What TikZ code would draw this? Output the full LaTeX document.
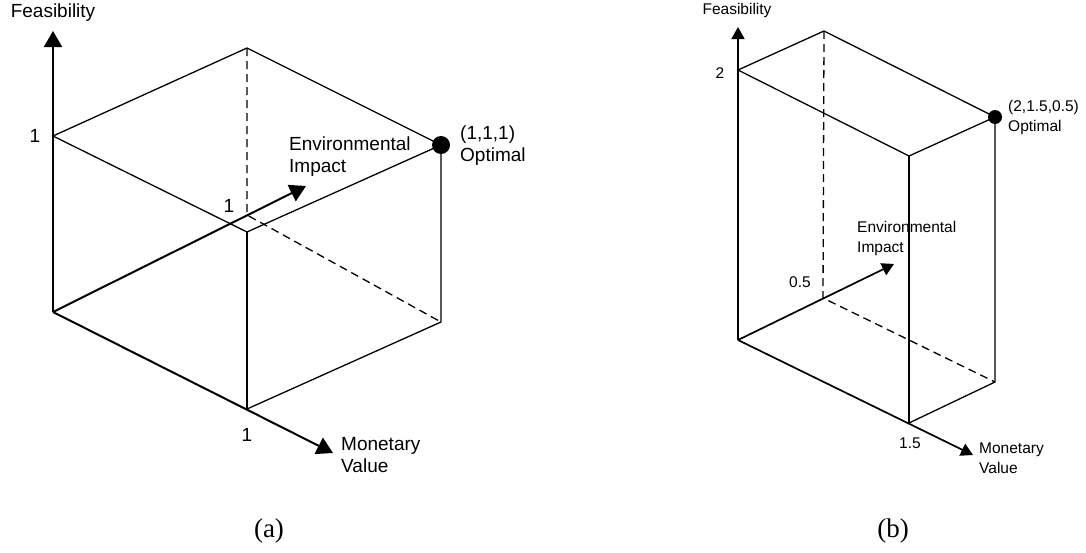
\documentclass[tikz,border=0pt]{standalone}
\usepackage{fontspec}
\setmainfont{Liberation Sans}
\newfontfamily\capfont{Liberation Serif}
\usetikzlibrary{arrows.meta}
\begin{document}
\begin{tikzpicture}[x=1pt,y=-1pt,
  axisA/.style={line width=2pt,-{Triangle[length=16pt,width=18pt]}},
  axisB/.style={line width=1.7pt,-{Triangle[length=12pt,width=13pt]}},
  boxedge/.style={line width=1.3pt},
  hidden/.style={line width=1.3pt,dash pattern=on 8pt off 5pt},
  lblA/.style={font=\fontsize{19}{22}\selectfont,inner sep=0pt,align=left},
  lblB/.style={font=\fontsize{15.5}{20}\selectfont,inner sep=0pt,align=left},
  capt/.style={font=\capfont\fontsize{27}{30}\selectfont,inner sep=0pt}]
\useasboundingbox (0,0) rectangle (1086,552);

% ---------------- (a) unit cube ----------------
\coordinate (aO) at (53,312);
\coordinate (aFt) at (53,31);
\coordinate (aF) at (53,136);
\coordinate (aTB) at (247,48);
\coordinate (aOpt) at (441,145);
\coordinate (aTF) at (247,232);
\coordinate (aM) at (247,409);
\coordinate (aBR) at (441,322);
\coordinate (aHB) at (247,215);
\coordinate (aEt) at (306,186);
\coordinate (aMt) at (333,453);

\draw[hidden] (aTB) -- (aHB) -- (aBR);
\draw[boxedge] (aF) -- (aTB) -- (aOpt) -- (aTF) -- cycle;
\draw[boxedge] (aTF) -- (aM);
\draw[boxedge] (aOpt) -- (aBR) -- (aM);
\draw[axisA] (aO) -- (aFt);
\draw[axisA] (aO) -- (aEt);
\draw[axisA] (aO) -- (aMt);
\fill (aOpt) circle (9);

\node[lblA] (aFlab) at (53,13) {Feasibility};
\node[lblA] (aF1) at (35,136) {1};
\node[lblA] (aE1) at (229,206) {1};
\node[lblA] (aM1) at (247,435) {1};
\node[lblA,anchor=west] (aElab) at (289,157) {Environmental\\Impact};
\node[lblA,anchor=west] (aOlab) at (460,146) {(1,1,1)\\Optimal};
\node[lblA,anchor=west] (aMlab) at (341,455) {Monetary\\Value};
\node[capt] (capA) at (269,531) {(a)};

% ---------------- (b) box 1.5 x 2 x 0.5 ----------------
\coordinate (bO) at (738,340);
\coordinate (bFt) at (738,27);
\coordinate (bF) at (738,70);
\coordinate (bTB) at (824,31);
\coordinate (bOpt) at (995,117);
\coordinate (bTF) at (909,156);
\coordinate (bM) at (909,423);
\coordinate (bBR) at (995,382);
\coordinate (bHB) at (823,298);
\coordinate (bEt) at (894,264);
\coordinate (bMt) at (973,455);

\draw[hidden] (bTB) -- (bHB) -- (bBR);
\draw[boxedge] (bF) -- (bTB) -- (bOpt) -- (bTF) -- cycle;
\draw[boxedge] (bTF) -- (bM);
\draw[boxedge] (bOpt) -- (bBR) -- (bM);
\draw[axisB] (bO) -- (bFt);
\draw[axisB] (bO) -- (bEt);
\draw[axisB] (bO) -- (bMt);
\fill (bOpt) circle (7);

\node[lblB] (bFlab) at (737,10) {Feasibility};
\node[lblB] (bF2) at (720,73) {2};
\node[lblB] (bE05) at (800,282) {0.5};
\node[lblB] (bM15) at (910,443) {1.5};
\node[lblB,anchor=west] (bElab) at (857,238) {Environmental\\Impact};
\node[lblB,anchor=west] (bOlab) at (1008,117) {(2,1.5,0.5)\\Optimal};
\node[lblB,anchor=west] (bMlab) at (979,458) {Monetary\\Value};
\node[capt] (capB) at (893,531) {(b)};
\end{tikzpicture}
\end{document}
